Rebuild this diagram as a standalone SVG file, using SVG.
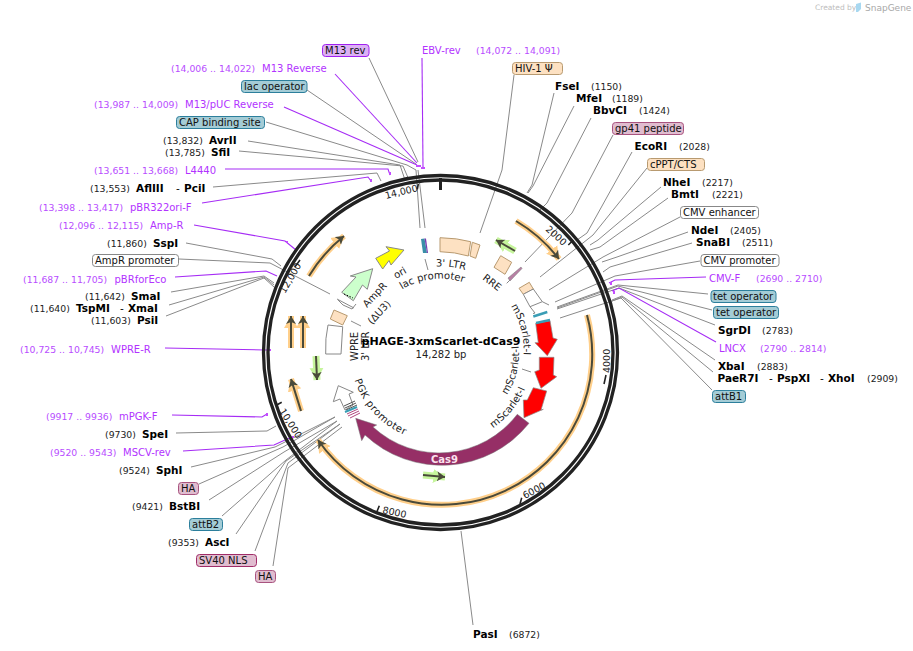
<svg xmlns="http://www.w3.org/2000/svg" width="913" height="651" viewBox="0 0 913 651">
<style>
text{font-family:"DejaVu Sans",Verdana,sans-serif;font-size:10px;fill:#111}
.n{font-size:9.3px;fill:#222}
.pn{font-size:9.3px;fill:#b84dff}
.p{font-size:10px;fill:#b233ff}
.b{font-size:10.5px;font-weight:bold;fill:#000}
.l{font-size:10px;fill:#222}
.t{font-size:9.5px;fill:#222}
.g{fill:none;stroke:#8a8a8a;stroke-width:1}
.v{fill:none;stroke:#a62cf5;stroke-width:1.1}
.pt{fill:#c44dff}
.teal{fill:#a4ccd6;stroke:#2c7f9c;stroke-width:1}
.pink{fill:#e0bccf;stroke:#a8537f;stroke-width:1}
.hot{fill:#e0bccf;stroke:#a02c68;stroke-width:1}
.peach{fill:#fde1c2;stroke:#b89a70;stroke-width:1}
.white{fill:#fff;stroke:#888;stroke-width:1}
.vio{fill:#dcb0f5;stroke:#a020f0;stroke-width:1}
.oh{fill:none;stroke:#ffcf8a;stroke-width:6;marker-end:url(#mo)}
.gh{fill:none;stroke:#c6f59c;stroke-width:7;marker-end:url(#mg)}
.d{fill:none;stroke:#4a4a3a;stroke-width:2;marker-end:url(#md)}
.ring{fill:none;stroke:#222;stroke-width:3.3}
.tk{stroke:#222;stroke-width:1.6}
.f{stroke:#888;stroke-width:1}
</style>
<defs>
<marker id="md" markerUnits="userSpaceOnUse" markerWidth="12" markerHeight="12" refX="8" refY="5" orient="auto"><path d="M0,0L8,5L0,10L2,5Z" fill="#4a4a3a"/></marker>
<marker id="mo" markerUnits="userSpaceOnUse" markerWidth="16" markerHeight="16" refX="12" refY="8" orient="auto"><path d="M0,1L12,8L0,15Z" fill="#ffcf8a"/></marker>
<marker id="mg" markerUnits="userSpaceOnUse" markerWidth="16" markerHeight="16" refX="12" refY="8" orient="auto"><path d="M0,1L12,8L0,15Z" fill="#c6f59c"/></marker>
<path id="tLac" d="M402,289.5A74,74 0 0 1 480,290"/>
<path id="tLtr" d="M436,266.6A86,86 0 0 1 490,282"/>
<path id="tPgk" d="M354.5,380A90,90 0 0 0 425,441"/>
<path id="tS1" d="M511,306A83,83 0 0 1 523,361"/>
<path id="tS2" d="M507,395A78,78 0 0 0 518.5,345"/>
<path id="tS3" d="M493,428A92,92 0 0 0 531,370"/>
</defs>

<g id="connectors">
<path class="g" d="M369,58L418,162"/>
<path class="v" d="M422,58L423,167"/>
<path class="v" d="M335,74L417,163"/>
<path class="g" d="M307,90L416,164"/>
<path class="v" d="M284,107L417,165"/>
<path class="g" d="M266,122L407,165L416,170L420,228"/>
<path class="g" d="M248,141L400,165L405,180"/>
<path class="g" d="M239,151L403,166L409,180"/>
<path class="v" d="M225,169L388,169L390,175"/>
<path class="g" d="M213,187L377,173L381,181"/>
<path class="v" d="M202,203L368,177L371,181"/>
<path class="g" d="M418,170L425,228"/>
<path class="v" d="M194,225L285,241L296,250"/>
<path class="g" d="M186,243L272,259L281,266"/>
<path class="g" d="M179,259L270,263L330,294"/>
<path class="v" d="M175,277L266,271L277,276"/>
<path class="g" d="M171,292L264,276L274,283"/>
<path class="g" d="M169,305L264,277L274,285"/>
<path class="g" d="M166,316L264,278L274,287"/>
<path class="v" d="M165,348L265,350L270,350"/>
<path class="v" d="M172,415L262,417L267,414"/>
<path class="g" d="M176,433L267,431L276,426"/>
<path class="v" d="M183,451L274,445L285,440L292,437"/>
<path class="g" d="M191,467L275,447L335,417"/>
<path class="g" d="M199,484L283,447L335,417"/>
<path class="g" d="M209,500L284,452L337,421"/>
<path class="g" d="M222,516L286,460L337,421"/>
<path class="g" d="M236,534L286,461L340,424"/>
<path class="g" d="M255,551L288,463L340,424"/>
<path class="g" d="M273,566L288,468L342,427"/>
<path class="g" d="M514,75L502,170L480,233"/>
<path class="g" d="M554,93L532,185L527,193"/>
<path class="g" d="M574,106L533,186L528,193"/>
<path class="g" d="M591,118L547,203L540,210"/>
<path class="g" d="M613,135L572,213L525,262"/>
<path class="g" d="M632,152L587,233L577,240"/>
<path class="g" d="M647,168L593,235L540,277"/>
<path class="g" d="M661,187L598,240L590,245"/>
<path class="g" d="M668,198L600,247L590,250"/>
<path class="g" d="M680,217L603,257L549,290"/>
<path class="g" d="M688,232L617,257L602,262"/>
<path class="g" d="M692,243L610,267L603,272"/>
<path class="g" d="M700,261L615,276L555,302"/>
<path class="v" d="M706,277L615,280L609,283"/>
<path class="g" d="M708,294L618,285L557,307"/>
<path class="g" d="M712,310L618,286L557,308"/>
<path class="g" d="M715,325L619,288L557,309"/>
<path class="v" d="M716,342L619,288L612,291"/>
<path class="g" d="M715,360L622,296L612,300"/>
<path class="g" d="M713,372L622,297L612,301"/>
<path class="g" d="M712,390L621,298L560,318"/>
<path class="g" d="M473,625L461,531"/>
<path class="g" d="M425,259L428,270"/>
<path class="g" d="M351,321L361,326"/>
<path class="g" d="M522,369L531,372"/>
<path class="pt" d="M421,167h4v2h-4zM416,165h5v2h-5zM389,172h2v3h-2zM370,179h2v3h-2zM298,252h2v2h-2zM286,241h2v2h-2zM269,349h2v2h-2zM266,413h2v3h-2zM292,436h2v2h-2zM610,282h2v3h-2zM613,291h2v3h-2z"/>
</g>

<g id="ring">
<circle class="ring" cx="440.5" cy="352.5" r="177"/>
<circle class="ring" cx="440.5" cy="352.5" r="172.5"/>
<path d="M440.5,178V190" stroke="#222" stroke-width="3"/>
<path class="tk" d="M573.3,240L568.3,245M606,375L604,384M521.7,497.7L520,504M379.3,505.7L376.7,512.3M281.7,402.3L276.7,405M300,260L295,266.7M418.3,184L417.3,189.3"/>
<text class="t" transform="translate(545,230) rotate(42)">2000</text>
<text class="t" transform="translate(610,373) rotate(-90)">4000</text>
<text class="t" transform="translate(525,499) rotate(-28)">6000</text>
<text class="t" transform="translate(382,513) rotate(12)">8000</text>
<text class="t" transform="translate(279,411) rotate(58)">10,000</text>
<text class="t" transform="translate(285,294) rotate(-60)">12,000</text>
<text class="t" transform="translate(386,199) rotate(-14)">14,000</text>
</g>

<g id="features">
<path class="oh" d="M587,315A150.5,150.5 0 0 1 318,440"/><path class="d" d="M587,315A150.5,150.5 0 0 1 318,440"/>
<path class="oh" d="M516,221A151,151 0 0 1 559,259"/><path class="d" d="M516,221A151,151 0 0 1 559,259"/>
<path class="oh" d="M309,276A153,153 0 0 1 344,236"/><path class="d" d="M309,276A153,153 0 0 1 344,236"/>
<path class="oh" d="M291,348L291,316"/><path class="d" d="M291,348L291,316"/>
<path class="oh" d="M303,348L303,316"/><path class="d" d="M303,348L303,316"/>
<path class="oh" d="M301,411L291,379"/><path class="d" d="M301,411L291,379"/>
<path class="gh" d="M515,251L496,240"/><path class="d" d="M515,251L496,240"/>
<path class="gh" d="M316,356L317,380"/><path class="d" d="M316,356L317,380"/>
<path class="gh" d="M423,475L445,477"/><path class="d" d="M423,475L445,477"/>
</g>

<g id="ori"><path d="M375.7,258.3L389.5,251L386,246.7L404,250L391,265L389,260.5L382.7,269Z" fill="#ffff00" stroke="#888" stroke-width="1"/><text class="l" transform="translate(396,279) rotate(-30)">ori</text></g>
<g id="ampr"><path d="M341.7,292.3L356,277L350.3,276L372.7,268.7L367.3,289.3L362.5,285L353.3,300.7Z" fill="#ccffcc" stroke="#888" stroke-width="1"/><path d="M344,294L353,298" stroke="#000" stroke-dasharray="1.5 1.5" fill="none"/><path d="M337,299L354,308M338,300L343,305L352,309L356,304" fill="none" stroke="#888"/><text class="l" transform="translate(367,308) rotate(-47)">AmpR</text><text class="l" transform="translate(372,325) rotate(-47)">(ΔU3)</text></g>
<g id="ltr5"><path d="M334,310L347.3,315.7L342.7,325L330.3,319Z" class="peach"/><path d="M328,325L342.7,326.7L341,354L325.7,354Q325,338 328,325Z" class="white"/><text class="l" transform="translate(357.5,361) rotate(-90)">WPRE</text><text class="l" transform="translate(369,361) rotate(-90)">3' LTR</text></g>
<g id="pgk"><path d="M333.3,401.7L338.3,385.7L353.3,392.3L349,394L353,405L345,410L340,399Z" class="white"/><path d="M344,406L355,401M345,408L356,403M346,410L357,405" stroke="#555" stroke-width="1"/><path d="M345,412L357,407" stroke="#3a9db5" stroke-width="2"/><path d="M347,414L358,409M348,416L359,411M350,418L360,413" stroke="#b0487e" stroke-width="1"/><text class="l" style="letter-spacing:.6px"><textPath href="#tPgk">PGK promoter</textPath></text></g>
<g id="cas9"><path d="M529,423.3A112,112 0 0 1 365,435L361.7,440.7L355.7,418.3L376.7,425L373,427A98,98 0 0 0 517.3,414.3Z" fill="#962f66" stroke="#777" stroke-width=".5"/><text x="431" y="463" style="font-size:10px;font-weight:bold;fill:#fbe3ee">Cas9</text></g>
<g id="ltr3"><path d="M440,237.7Q457,238 470.7,241.7L468.3,256Q455,252 440,251.7Z" class="peach"/><path d="M472.3,242.3L480,245L475.7,258.3L470,256Z" class="peach"/><text class="l"><textPath href="#tLtr">3' LTR</textPath></text></g>
<g id="lac"><path d="M421,239L424.5,238.5L427,253L423,253Z" fill="#3a8fa8"/><path d="M424.5,238.5L426,238.5L428,253L427,253Z" fill="#7a3ab0"/><text class="l"><textPath href="#tLac">lac promoter</textPath></text></g>
<g id="rre"><path d="M500.7,255.7L511.7,262.3L505,274.3L494,267.3Z" class="peach"/><path d="M508,278L521,267L522,268.5L510,281Z" fill="#b87fa4" stroke="#777" stroke-width=".5"/><path d="M506.7,283.3L510,280" stroke="#888"/><text class="l" transform="translate(482,279) rotate(38)">RRE</text></g>
<g id="gp"><path d="M519,288.3L529.3,282.3L533.3,289L523.3,294.3Z" class="peach"/><path d="M523.3,294.3L533.3,289L542.3,301.7L530,306.7Z" class="white"/><path d="M530,306.7L535,313L533,313.5M542.3,301.7L549,305" fill="none" stroke="#888"/><path d="M533.3,316.5L547.3,312" stroke="#3a9db5" stroke-width="2.4"/></g>
<g id="red1"><path d="M535.7,323.3L550,320.7L553,338L557.3,339.3L547.3,355.7L535,342.7L538.3,342.7Z" fill="#f00" stroke="#888" stroke-width=".7"/><path d="M536,323L550,320" stroke="#3a9db5" stroke-width="2.4"/><text class="l"><textPath href="#tS1">mScarlet-I</textPath></text></g>
<g id="red2"><path d="M539.3,357.3L554,357.3L553.3,375L556.7,376.7L541,388.3L534.7,371.7L539.3,370Z" fill="#f00" stroke="#888" stroke-width=".7"/><text class="l"><textPath href="#tS2">mScarlet-I</textPath></text></g>
<g id="red3"><path d="M533.3,387.7L546.7,391L541,410L543.3,409.3L524,417.7L523.3,400L527.3,400Z" fill="#f00" stroke="#888" stroke-width=".7"/><text class="l"><textPath href="#tS3">mScarlet-I</textPath></text></g>

<g id="title"><text x="441" y="345" text-anchor="middle" style="font-size:11px;font-weight:bold;fill:#000">pHAGE-3xmScarlet-dCas9</text><text x="441" y="358" text-anchor="middle" style="font-size:10px;fill:#222">14,282 bp</text></g>

<g id="m13rev"><rect x="322.5" y="44.5" width="46.5" height="12" rx="3" class="vio"/><text x="325" y="54">M13 rev</text></g>
<g id="ebv"><text class="p" x="422" y="54">EBV-rev</text><text class="pn" x="476" y="54">(14,072 .. 14,091)</text></g>
<g id="m13r"><text class="pn" x="171" y="72">(14,006 .. 14,022)</text><text class="p" x="262" y="72">M13 Reverse</text></g>
<g id="lacop"><rect x="241.5" y="80.5" width="65.5" height="12" rx="3" class="teal"/><text x="244" y="90">lac operator</text></g>
<g id="m13puc"><text class="pn" x="94" y="108">(13,987 .. 14,009)</text><text class="p" x="185" y="108">M13/pUC Reverse</text></g>
<g id="cap"><rect x="176.5" y="116.5" width="88" height="12" rx="3" class="teal"/><text x="179" y="126">CAP binding site</text></g>
<g id="avr"><text class="n" x="163" y="144">(13,832)</text><text class="b" x="209" y="144">AvrII</text></g>
<g id="sfi"><text class="n" x="165" y="156">(13,785)</text><text class="b" x="211" y="156">SfiI</text></g>
<g id="l4440"><text class="pn" x="94" y="174">(13,651 .. 13,668)</text><text class="p" x="185" y="174">L4440</text></g>
<g id="afl"><text class="n" x="90" y="192">(13,553)</text><text class="b" x="136" y="192">AflIII</text><text class="b" x="176" y="192" style="font-weight:normal">-</text><text class="b" x="184" y="192">PciI</text></g>
<g id="pbr"><text class="pn" x="39" y="211">(13,398 .. 13,417)</text><text class="p" x="130" y="211">pBR322ori-F</text></g>
<g id="ampr2"><text class="pn" x="59" y="229">(12,096 .. 12,115)</text><text class="p" x="150" y="229">Amp-R</text></g>
<g id="ssp"><text class="n" x="107" y="247">(11,860)</text><text class="b" x="153" y="247">SspI</text></g>
<g id="amppro"><rect x="92.5" y="254.5" width="86" height="12" rx="3" class="white"/><text x="95" y="264">AmpR promoter</text></g>
<g id="pbrf"><text class="pn" x="23" y="283">(11,687 .. 11,705)</text><text class="p" x="114.5" y="283">pBRforEco</text></g>
<g id="sma"><text class="n" x="85" y="300">(11,642)</text><text class="b" x="131" y="300">SmaI</text></g>
<g id="tsp"><text class="n" x="30" y="312">(11,640)</text><text class="b" x="76" y="312">TspMI</text><text class="b" x="120" y="312" style="font-weight:normal">-</text><text class="b" x="128" y="312">XmaI</text></g>
<g id="psi"><text class="n" x="91" y="324">(11,603)</text><text class="b" x="137" y="324">PsiI</text></g>
<g id="wprer"><text class="pn" x="20" y="353">(10,725 .. 10,745)</text><text class="p" x="111" y="353">WPRE-R</text></g>
<g id="mpgk"><text class="pn" x="46" y="420">(9917 .. 9936)</text><text class="p" x="119" y="420">mPGK-F</text></g>
<g id="spe"><text class="n" x="105" y="438">(9730)</text><text class="b" x="142" y="438">SpeI</text></g>
<g id="mscv"><text class="pn" x="50" y="456">(9520 .. 9543)</text><text class="p" x="123" y="456">MSCV-rev</text></g>
<g id="sph"><text class="n" x="119" y="474">(9524)</text><text class="b" x="156" y="474">SphI</text></g>
<g id="ha1"><rect x="178.5" y="482.5" width="20" height="12" rx="3" class="pink"/><text x="181" y="492">HA</text></g>
<g id="bst"><text class="n" x="132" y="510">(9421)</text><text class="b" x="169" y="510">BstBI</text></g>
<g id="attb2"><rect x="189.5" y="518.5" width="33" height="12" rx="3" class="teal"/><text x="192" y="528">attB2</text></g>
<g id="asc"><text class="n" x="168" y="546">(9353)</text><text class="b" x="205" y="546">AscI</text></g>
<g id="sv40"><rect x="196.5" y="554.5" width="60" height="12" rx="3" class="hot"/><text x="199" y="564">SV40 NLS</text></g>
<g id="ha2"><rect x="255.5" y="570.5" width="20" height="12" rx="3" class="pink"/><text x="258" y="580">HA</text></g>
<g id="hiv"><rect x="512.5" y="62.5" width="50" height="12" rx="3" class="peach"/><text x="515" y="72">HIV-1 Ψ</text></g>
<g id="fse"><text class="b" x="555" y="90">FseI</text><text class="n" x="591" y="90">(1150)</text></g>
<g id="mfe"><text class="b" x="576" y="102">MfeI</text><text class="n" x="612" y="102">(1189)</text></g>
<g id="bbv"><text class="b" x="593" y="114">BbvCI</text><text class="n" x="639" y="114">(1424)</text></g>
<g id="gp41"><rect x="612.5" y="122.5" width="71" height="12" rx="3" class="pink"/><text x="615" y="132">gp41 peptide</text></g>
<g id="eco"><text class="b" x="634.5" y="150">EcoRI</text><text class="n" x="679" y="150">(2028)</text></g>
<g id="cppt"><rect x="647.5" y="158.5" width="57" height="12" rx="3" class="peach"/><text x="650" y="168">cPPT/CTS</text></g>
<g id="nhe"><text class="b" x="663" y="186">NheI</text><text class="n" x="702" y="186">(2217)</text></g>
<g id="bmt"><text class="b" x="671" y="198">BmtI</text><text class="n" x="712" y="198">(2221)</text></g>
<g id="cmve"><rect x="680.5" y="206.5" width="78" height="12" rx="3" class="white"/><text x="683" y="216">CMV enhancer</text></g>
<g id="nde"><text class="b" x="691" y="234">NdeI</text><text class="n" x="730" y="234">(2405)</text></g>
<g id="sna"><text class="b" x="696" y="246">SnaBI</text><text class="n" x="742" y="246">(2511)</text></g>
<g id="cmvp"><rect x="701" y="254.5" width="78" height="12" rx="3" class="white"/><text x="703.5" y="264">CMV promoter</text></g>
<g id="cmvf"><text class="p" x="709" y="282">CMV-F</text><text class="pn" x="756" y="282">(2690 .. 2710)</text></g>
<g id="tet1"><rect x="711" y="290.5" width="65" height="12" rx="3" class="teal"/><text x="713" y="300">tet operator</text></g>
<g id="tet2"><rect x="713.5" y="306.5" width="65" height="12" rx="3" class="teal"/><text x="716" y="316">tet operator</text></g>
<g id="sgr"><text class="b" x="718" y="334">SgrDI</text><text class="n" x="762" y="334">(2783)</text></g>
<g id="lncx"><text class="p" x="719" y="352">LNCX</text><text class="pn" x="760" y="352">(2790 .. 2814)</text></g>
<g id="xba"><text class="b" x="718" y="370">XbaI</text><text class="n" x="757" y="370">(2883)</text></g>
<g id="pae"><text class="b" x="717.5" y="382">PaeR7I</text><text class="b" x="769" y="382" style="font-weight:normal">-</text><text class="b" x="777" y="382">PspXI</text><text class="b" x="820" y="382" style="font-weight:normal">-</text><text class="b" x="828" y="382">XhoI</text><text class="n" x="867" y="382">(2909)</text></g>
<g id="attb1"><rect x="712.5" y="390.5" width="33" height="12" rx="3" class="teal"/><text x="715" y="400">attB1</text></g>
<g id="pas"><text class="b" x="473" y="638">PasI</text><text class="n" x="509" y="638">(6872)</text></g>
<g id="credit"><text x="815" y="10" style="font-size:7.5px;fill:#bdbdbd">Created by</text><path d="M856,4L861,2.5L861,9L858,12L856,12Z" fill="#a8d8f0"/><text x="865" y="10.5" style="font-size:9px;fill:#a8a8a8">SnapGene</text></g>
</svg>
